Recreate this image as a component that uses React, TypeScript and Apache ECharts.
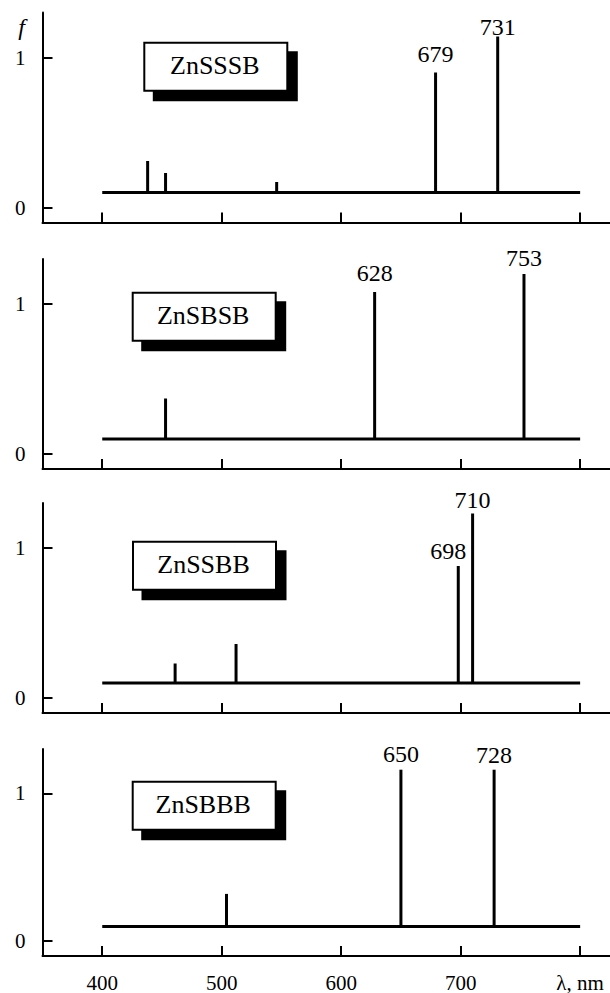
import React, { useEffect, useRef } from "react";
import * as echarts from "echarts";

// ---- data ----
const xTickValues = [400, 500, 600, 700, 800];
const yTickValues = [0, 1];
const baselineF = 0.1;
const baselineFrom = 400;
const baselineTo = 800;

const sampleNames = ["ZnSSSB", "ZnSBSB", "ZnSSBB", "ZnSBBB"];

const lambdaSSSB = [438, 453, 546, 679, 731];
const fSSSB = [0.31, 0.23, 0.17, 0.9, 1.14];
const labelSSSB = ["", "", "", "679", "731"];

const lambdaSBSB = [453, 628, 753];
const fSBSB = [0.37, 1.08, 1.2];
const labelSBSB = ["", "628", "753"];

const lambdaSSBB = [461, 512, 698, 710];
const fSSBB = [0.23, 0.36, 0.88, 1.23];
const labelSSBB = ["", "", "698", "710"];

const lambdaSBBB = [504, 650, 728];
const fSBBB = [0.32, 1.16, 1.16];
const labelSBBB = ["", "650", "728"];

const panels = [
  { lambda: lambdaSSSB, f: fSSSB, labels: labelSSSB },
  { lambda: lambdaSBSB, f: fSBSB, labels: labelSBSB },
  { lambda: lambdaSSBB, f: fSSBB, labels: labelSSBB },
  { lambda: lambdaSBBB, f: fSBBB, labels: labelSBBB },
];

// ---- layout ----
const FONT = "Liberation Serif";
const gridTops = [12.5, 259, 503, 749];
const gridLeft = 42.5;
const gridWidth = 567.5;
const gridHeight = 210;
const boxPos = [
  [143.3, 41.7],
  [131.7, 291.7],
  [132, 540.7],
  [131.7, 780.7],
];
const boxW = 145;
const boxH = 50;
const shadowOff = 9.5;
// label center offset above stick top (px), and horizontal shift
const peakLabelLayout: Record<string, { up: number; dx: number }> = {
  "679": { up: 18.4, dx: 0 },
  "731": { up: 9.5, dx: 0 },
  "628": { up: 19.4, dx: 0 },
  "753": { up: 16, dx: 0 },
  "698": { up: 15, dx: -10 },
  "710": { up: 13.3, dx: 0 },
  "650": { up: 15.7, dx: 0 },
  "728": { up: 14.3, dx: 0 },
};

export default function App() {
  const ref = useRef<HTMLDivElement>(null);
  useEffect(() => {
    if (!ref.current) return;
    const chart = echarts.init(ref.current, null, { renderer: "svg" });

    const grid = gridTops.map((top) => ({
      left: gridLeft,
      top,
      width: gridWidth,
      height: gridHeight,
      containLabel: false,
    }));

    const xAxis = gridTops.map((_, i) => ({
      type: "value",
      gridIndex: i,
      min: 350,
      max: 825,
      axisLine: { show: true, onZero: false, lineStyle: { color: "#000", width: 2 } },
      axisTick: {
        show: true,
        inside: true,
        length: 10,
        customValues: xTickValues,
        lineStyle: { color: "#000", width: 2 },
      },
      axisLabel: {
        show: i === 3,
        customValues: xTickValues,
        color: "#000",
        fontFamily: FONT,
        fontSize: 21,
        margin: 16,
        formatter: (v: number) => (v === 800 ? "λ, nm" : String(v)),
      },
      splitLine: { show: false },
    }));

    const yAxis = gridTops.map((_, i) => ({
      type: "value",
      gridIndex: i,
      min: -0.1,
      max: 1.3,
      axisLine: { show: true, onZero: false, lineStyle: { color: "#000", width: 2 } },
      axisTick: {
        show: true,
        inside: true,
        length: 10,
        customValues: yTickValues,
        lineStyle: { color: "#000", width: 2 },
      },
      axisLabel: {
        show: true,
        customValues: yTickValues,
        color: "#000",
        fontFamily: FONT,
        fontSize: 21,
        margin: 17,
        formatter: (v: number) => String(v),
      },
      splitLine: { show: false },
    }));

    const series: any[] = [];
    panels.forEach((p, i) => {
      series.push({
        type: "line",
        xAxisIndex: i,
        yAxisIndex: i,
        data: [
          [baselineFrom, baselineF],
          [baselineTo, baselineF],
        ],
        symbol: "none",
        lineStyle: { color: "#000", width: 3, cap: "butt" },
        silent: true,
      });
      series.push({
        type: "custom",
        xAxisIndex: i,
        yAxisIndex: i,
        data: p.lambda.map((l, k) => [l, p.f[k]]),
        encode: { x: 0, y: 1 },
        silent: true,
        renderItem: (params: any, api: any) => {
          const x = api.value(0);
          const f = api.value(1);
          const p0 = api.coord([x, baselineF]);
          const p1 = api.coord([x, f]);
          const children: any[] = [
            {
              type: "line",
              shape: { x1: p0[0], y1: p0[1], x2: p1[0], y2: p1[1] },
              style: { stroke: "#000", lineWidth: 3, lineCap: "butt" },
            },
          ];
          const txt = p.labels[params.dataIndex];
          if (txt) {
            const lay = peakLabelLayout[txt] || { up: 15, dx: 0 };
            children.push({
              type: "text",
              x: p1[0] + lay.dx,
              y: p1[1] - lay.up,
              style: {
                text: txt,
                fill: "#000",
                fontFamily: FONT,
                fontSize: 24,
                align: "center",
                verticalAlign: "middle",
              },
            });
          }
          return { type: "group", children };
        },
      });
    });

    const graphic: any[] = [];
    sampleNames.forEach((name, i) => {
      const [bx, by] = boxPos[i];
      graphic.push({
        type: "rect",
        shape: { x: bx + shadowOff, y: by + shadowOff, width: boxW, height: boxH },
        style: { fill: "#000" },
        silent: true,
      });
      graphic.push({
        type: "rect",
        shape: { x: bx + 1, y: by + 1, width: boxW - 2, height: boxH - 2 },
        style: { fill: "#fff", stroke: "#000", lineWidth: 2 },
        silent: true,
      });
      graphic.push({
        type: "text",
        x: bx + boxW / 2 - 1,
        y: by + boxH / 2 - 1,
        style: {
          text: name,
          fill: "#000",
          fontFamily: FONT,
          fontSize: 26,
          align: "center",
          verticalAlign: "middle",
        },
        silent: true,
      });
    });
    graphic.push({
      type: "text",
      x: 21.5,
      y: 27,
      style: {
        text: "f",
        fill: "#000",
        fontFamily: FONT,
        fontSize: 24,
        fontStyle: "italic",
        align: "center",
        verticalAlign: "middle",
      },
      silent: true,
    });

    chart.setOption({
      animation: false,
      backgroundColor: "#fff",
      grid,
      xAxis,
      yAxis,
      series,
      graphic,
    });
    return () => chart.dispose();
  }, []);

  return (
    <div
      ref={ref}
      style={{ position: "fixed", left: 0, top: 0, width: 610, height: 993, background: "#fff" }}
    />
  );
}
